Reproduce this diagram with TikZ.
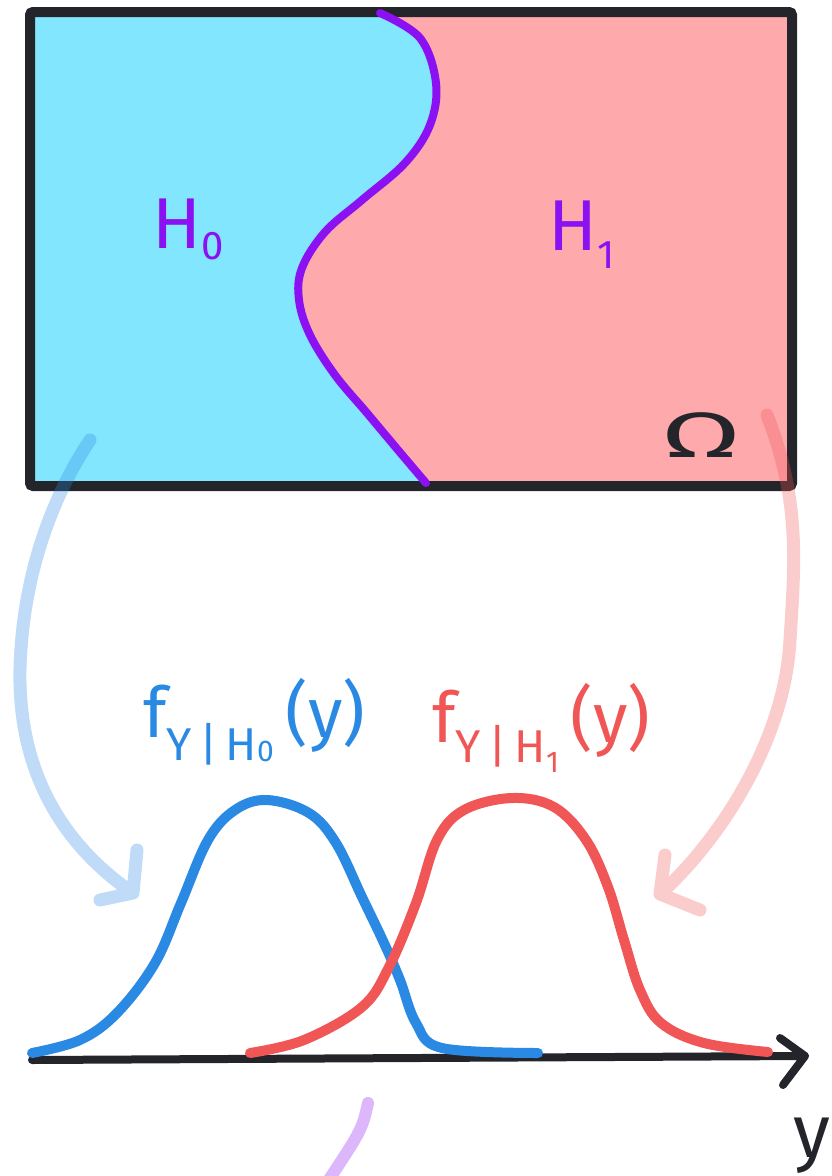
\documentclass[tikz,border=0pt]{standalone}
\usepackage{fontspec}
\setmainfont{Fira Sans}
\usetikzlibrary{positioning}
\definecolor{boxblack}{RGB}{36,37,42}
\definecolor{cyanfill}{RGB}{130,230,254}
\definecolor{pinkfill}{RGB}{254,169,172}
\definecolor{bndpurple}{RGB}{139,16,242}
\definecolor{curveblue}{RGB}{42,137,227}
\definecolor{curvered}{RGB}{240,86,86}
\newcommand{\lowsub}[3]{\raisebox{-#1pt}{\fontsize{#2}{#2}\selectfont #3}}

\begin{document}
\begin{tikzpicture}[x=1pt,y=-1pt,
    sketch/.style={line cap=round, line join=round},
    hyplabel/.style={text=bndpurple, font=\fontsize{72}{72}\selectfont, inner sep=0pt, anchor=base west},
    denslabel/.style={font=\fontsize{70}{70}\selectfont, inner sep=0pt, anchor=base west},
    fadeblue/.style={sketch, draw=curveblue, draw opacity=0.3, line width=13},
    fadered/.style={sketch, draw=curvered, draw opacity=0.3, line width=13},
    fadepurple/.style={sketch, draw=bndpurple, draw opacity=0.3, line width=12}]
    \useasboundingbox (0,0) rectangle (831,1176);

    % sample space split by the decision boundary
    \fill[pinkfill] (30,12) rectangle (792,486);
    \fill[cyanfill] (30,12) -- (380,12) -- plot[smooth, tension=0.6] coordinates {(380,13) (420,38) (436,83) (430,125) (405,163) (362,200) (325,232) (302,268) (299,300) (310,335) (335,375) (367,413) (398,450) (426,483)} -- (426,486) -- (30,486) -- cycle;
    \draw[boxblack, line width=10, rounded corners=3] (30,12) rectangle (792,486);
    \draw[sketch, bndpurple, line width=8] plot[smooth, tension=0.6] coordinates {(380,13) (420,38) (436,83) (430,125) (405,163) (362,200) (325,232) (302,268) (299,300) (310,335) (335,375) (367,413) (398,450) (426,483)};

    \node[hyplabel] (h0) at (152,248) {H\lowsub{11}{40}{0}};
    \node[hyplabel] (h1) at (548,250) {H\lowsub{18}{40}{1}};
    \node[inner sep=0pt, anchor=base, text=boxblack, font=\fontsize{64}{64}\selectfont] (omega) at (701,457) {\scalebox{1.8}[1]{Ω}};

    % densities
    \node[denslabel, text=curveblue] (f0) at (143,737) {f\lowsub{23}{46}{Y\,|\,H\lowsub{1}{30}{0}}\,(y)};
    \node[denslabel, text=curvered] (f1) at (432,742) {f\lowsub{20}{46}{Y\,|\,H\lowsub{10}{30}{1}}\,(y)};

    \coordinate (axstart) at (32,1060);
    \coordinate (axend) at (805,1056);
    \draw[sketch, boxblack, line width=8] (axstart) -- (axend) (axend) -- ++(-25,-18) (axend) -- ++(-22,29);
    \node[inner sep=0pt, anchor=base, text=boxblack, font=\fontsize{75}{75}\selectfont] (ylab) at (812,1157) {y};

    \draw[sketch, curveblue, line width=10] plot[smooth, tension=0.6] coordinates {(32,1053) (80,1040) (117,1013) (155,963) (181,903) (208,840) (235,810) (267,800) (309,813) (336,843) (362,897) (384,943) (400,980) (416,1023) (442,1048) (538,1053)};
    \draw[sketch, curvered, line width=10] plot[smooth, tension=0.6] coordinates {(250,1053) (304,1040) (362,1007) (389,967) (416,903) (437,840) (464,810) (512,798) (554,807) (586,840) (608,887) (624,940) (640,990) (661,1023) (704,1043) (768,1052)};

    % maps from the regions to the densities
    \coordinate (h0src) at (90,440);
    \coordinate (h0tip) at (133,893);
    \coordinate (h1src) at (767,415);
    \coordinate (h1tip) at (660,894);
    \draw[fadeblue] (h0src) .. controls (50,500) and (22,580) .. (20,670) .. controls (18,780) and (70,850) .. (h0tip) (h0tip) -- ++(4,-43) (h0tip) -- ++(-33,7);
    \draw[fadered] (h1src) .. controls (800,500) and (795,560) .. (790,640) .. controls (785,740) and (720,840) .. (h1tip) (h1tip) -- ++(5,-39) (h1tip) -- ++(40,16);
    \draw[fadepurple] (368,1103) .. controls (362,1130) .. (322,1190);
\end{tikzpicture}
\end{document}
